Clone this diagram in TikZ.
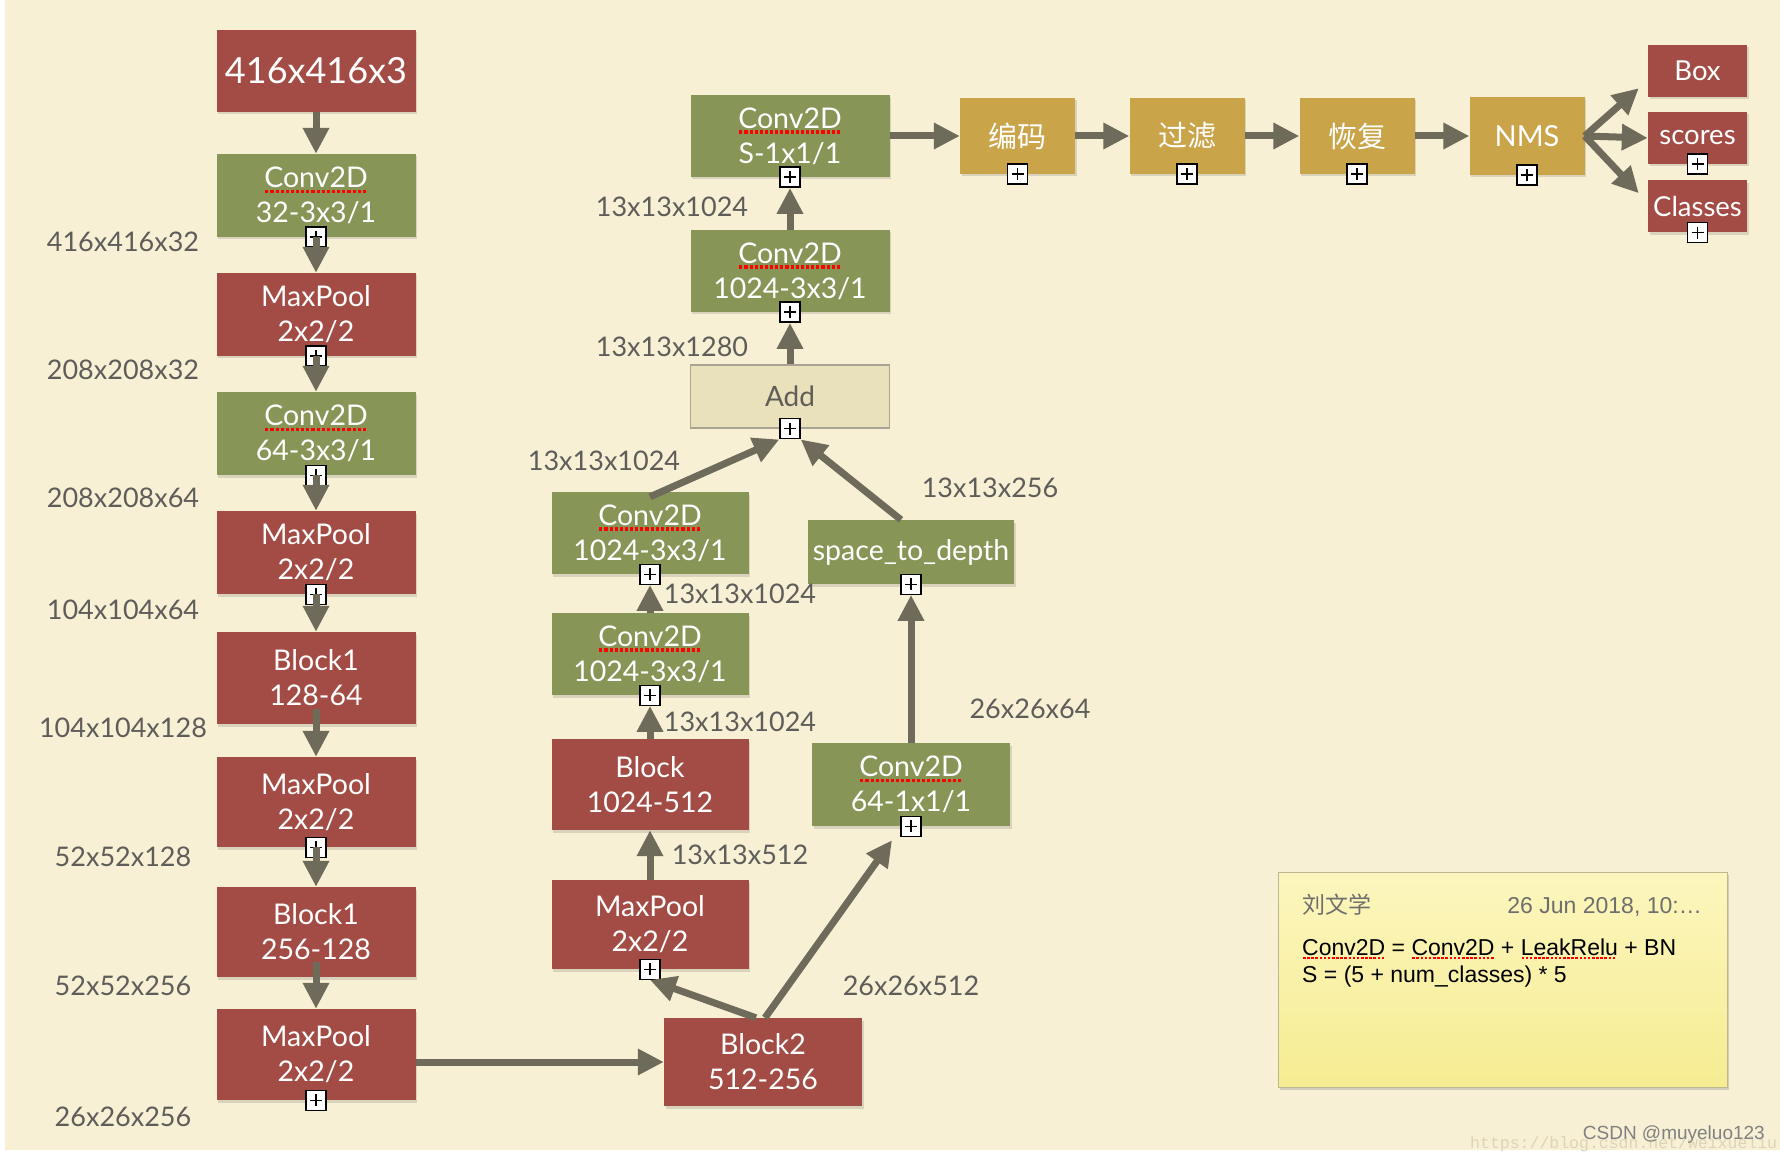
\documentclass[tikz,border=0pt]{standalone}
\usepackage{fontspec}
\setmainfont{Lato}
\newfontfamily\cjk{Noto Sans CJK SC}
\newfontfamily\notefont{Liberation Sans}
\newfontfamily\wmfont{Liberation Mono}
\usetikzlibrary{arrows.meta, shadows}

\definecolor{bgpaper}{HTML}{F8F0D4}
\definecolor{poolred}{HTML}{A34C46}
\definecolor{convgreen}{HTML}{879556}
\definecolor{postgold}{HTML}{C9A449}
\definecolor{addfill}{HTML}{E9E0BC}
\definecolor{addline}{HTML}{A9A392}
\definecolor{addtext}{HTML}{5F5D56}
\definecolor{flowgray}{HTML}{6F6B5B}
\definecolor{shapegray}{HTML}{5E5D59}
\definecolor{notetop}{HTML}{FCF6BE}
\definecolor{notebot}{HTML}{F6EC92}
\definecolor{noteline}{HTML}{BDB790}
\definecolor{notegray}{HTML}{6E6E6E}
\definecolor{wmurl}{HTML}{DDD4B6}

% red dotted spell-check underline
\newcommand{\redul}[1]{\setbox0\hbox{#1}\rlap{\lower0.19em\hbox to\wd0{\color{red}\leaders\hbox{\kern0.035em\rule{0.11em}{0.11em}\kern0.035em}\hfil}}\box0\relax}

\tikzstyle{layer}=[rectangle, inner sep=0pt, align=center, text=white, font=\fontsize{28.5}{35}\selectfont, drop shadow={shadow xshift=1.5pt, shadow yshift=-2.5pt, opacity=0.25}]
\tikzstyle{redbox}=[layer, fill=poolred, minimum width=199pt, minimum height=83pt]
\tikzstyle{greenbox}=[layer, fill=convgreen, minimum width=199pt, minimum height=83pt]
\tikzstyle{titlebox}=[redbox, minimum height=82pt, font=\fontsize{36}{40}\selectfont]
\tikzstyle{goldbox}=[layer, fill=postgold, minimum width=115pt, minimum height=76pt, font=\fontsize{29}{32}\selectfont]
\tikzstyle{outbox}=[layer, fill=poolred, minimum width=99pt, minimum height=52pt, font=\fontsize{27.5}{30}\selectfont]
\tikzstyle{addbox}=[rectangle, inner sep=0pt, fill=addfill, draw=addline, line width=1.5pt, text=addtext, minimum width=199pt, minimum height=63pt, font=\fontsize{28}{30}\selectfont]
\tikzstyle{dims}=[inner sep=0pt, text=shapegray, font=\fontsize{27}{30}\selectfont]
\tikzstyle{flow}=[draw=flowgray, line width=7pt, -{Triangle[length=26pt,width=25pt]}]
\tikzstyle{plusbox}=[draw=black, fill=white, line width=1.4pt, minimum size=20pt, inner sep=0pt, path picture={\draw[line width=1.4pt] ([yshift=-4pt]path picture bounding box.north) -- ([yshift=4pt]path picture bounding box.south) ([xshift=4pt]path picture bounding box.west) -- ([xshift=-4pt]path picture bounding box.east);}]
\tikzstyle{notebox}=[rectangle, inner sep=0pt, top color=notetop, bottom color=notebot, draw=noteline, line width=1pt, minimum width=449pt, minimum height=215pt, drop shadow={shadow xshift=2pt, shadow yshift=-3pt, opacity=0.3}]
\tikzstyle{notetext}=[inner sep=0pt, font=\notefont\fontsize{23}{27}\selectfont]

\begin{document}
\begin{tikzpicture}[x=1pt, y=-1pt]
\useasboundingbox (0,0) rectangle (1780,1155);
\fill[bgpaper] (5,0) rectangle (1780,1150);
% Backbone
    \node[titlebox] (inp) at (316,71) {416x416x3};
    \node[greenbox] (c1) at (316,195.5) {\redul{Conv2D}\\32-3x3/1};
    \node[redbox] (m1) at (316,314.5) {MaxPool\\2x2/2};
    \node[greenbox] (c2) at (316,433.5) {\redul{Conv2D}\\64-3x3/1};
    \node[redbox] (m2) at (316,552.5) {MaxPool\\2x2/2};
    \node[redbox, minimum height=92pt] (b1) at (316,678) {Block1\\128-64};
    \node[redbox, minimum height=90pt] (m3) at (316,802) {MaxPool\\2x2/2};
    \node[redbox, minimum height=90pt] (b2) at (316,932) {Block1\\256-128};
    \node[redbox, minimum height=91pt] (m4) at (316,1054.5) {MaxPool\\2x2/2};
% Shapes beside the backbone
    \node[dims] (l1) at (123,242) {416x416x32};
    \node[dims] (l2) at (123,370) {208x208x32};
    \node[dims] (l3) at (123,498) {208x208x64};
    \node[dims] (l4) at (123,610) {104x104x64};
    \node[dims] (l5) at (123,728) {104x104x128};
    \node[dims] (l6) at (123,857) {52x52x128};
    \node[dims] (l7) at (123,986) {52x52x256};
    \node[dims] (l8) at (123,1117) {26x26x256};
% Head
    \node[greenbox, minimum width=197pt, minimum height=82pt] (ca) at (650,533) {\redul{Conv2D}\\1024-3x3/1};
    \node[greenbox, minimum width=197pt, minimum height=82pt] (cb) at (650,654) {\redul{Conv2D}\\1024-3x3/1};
    \node[redbox, minimum width=197pt, minimum height=91pt] (bk) at (650,784.5) {Block\\1024-512};
    \node[redbox, minimum width=197pt, minimum height=89pt] (mp) at (650,924.5) {MaxPool\\2x2/2};
    \node[redbox, minimum width=198pt, minimum height=88pt] (blk2) at (763,1062) {Block2\\512-256};
    \node[greenbox, minimum width=206pt, minimum height=64pt] (s2d) at (911,552) {space\_to\_depth};
    \node[greenbox, minimum width=198pt] (c64) at (911,784.5) {\redul{Conv2D}\\64-1x1/1};
    \node[addbox] (add) at (790,396.5) {Add};
    \node[greenbox, minimum height=82pt] (ct) at (790,271) {\redul{Conv2D}\\1024-3x3/1};
    \node[greenbox, minimum height=82pt] (cs) at (790,136) {\redul{Conv2D}\\S-1x1/1};
% Shapes beside the head
    \node[dims] (h1) at (672,207) {13x13x1024};
    \node[dims] (h2) at (672,347) {13x13x1280};
    \node[dims] (h3) at (604,461) {13x13x1024};
    \node[dims] (h4) at (990,488) {13x13x256};
    \node[dims] (h5) at (740,594) {13x13x1024};
    \node[dims] (h6) at (740,722) {13x13x1024};
    \node[dims] (h7) at (740,855) {13x13x512};
    \node[dims] (h8) at (1030,709) {26x26x64};
    \node[dims] (h9) at (911,986) {26x26x512};
% Post-processing
    \node[goldbox] (enc) at (1017.5,136) {\cjk 编码};
    \node[goldbox] (flt) at (1187,136) {\cjk 过滤};
    \node[goldbox] (rec) at (1357,136) {\cjk 恢复};
    \node[goldbox, minimum height=78pt] (nms) at (1527,136) {NMS};
    \node[outbox] (box) at (1697.5,71) {Box};
    \node[outbox] (scr) at (1697.5,138) {scores};
    \node[outbox] (cls) at (1697.5,206.5) {Classes};
% Expand markers
    \node[plusbox] (pc1) at (c1.south) {};
    \node[plusbox] (pm1) at (m1.south) {};
    \node[plusbox] (pc2) at (c2.south) {};
    \node[plusbox] (pm2) at (m2.south) {};
    \node[plusbox] (pm3) at (m3.south) {};
    \node[plusbox] (pm4) at (m4.south) {};
    \node[plusbox] (pca) at (ca.south) {};
    \node[plusbox] (pcb) at (cb.south) {};
    \node[plusbox] (pmp) at (mp.south) {};
    \node[plusbox] (ps2d) at (s2d.south) {};
    \node[plusbox] (pc64) at (c64.south) {};
    \node[plusbox] (padd) at (add.south) {};
    \node[plusbox] (pct) at (ct.south) {};
    \node[plusbox] (pcs) at (cs.south) {};
    \node[plusbox] (penc) at (enc.south) {};
    \node[plusbox] (pflt) at (flt.south) {};
    \node[plusbox] (prec) at (rec.south) {};
    \node[plusbox] (pnms) at (nms.south) {};
    \node[plusbox] (pscr) at (scr.south) {};
    \node[plusbox] (pcls) at (cls.south) {};
% Data flow
    \draw[flow] (inp.south) -- (c1.north);
    \draw[flow] (c1.south) -- (m1.north);
    \draw[flow] (m1.south) -- (c2.north);
    \draw[flow] (c2.south) -- (m2.north);
    \draw[flow] (m2.south) -- (b1.north);
    \draw[flow] ([yshift=15pt]b1.south) -- (m3.north);
    \draw[flow] (m3.south) -- (b2.north);
    \draw[flow] ([yshift=15pt]b2.south) -- (m4.north);
    \draw[flow] (m4.east |- blk2.west) -- (blk2.west);
    \draw[flow] ([xshift=-7pt]blk2.north) -- (pmp.south);
    \draw[flow] ([xshift=2pt]blk2.north) -- ([xshift=-19pt,yshift=-14pt]c64.south);
    \draw[flow] (mp.north) -- (bk.south);
    \draw[flow] (bk.north) -- (pcb.south);
    \draw[flow] (cb.north) -- (pca.south);
    \draw[flow] ([yshift=-5pt]ca.north) -- (padd.south west);
    \draw[flow] ([xshift=-10pt]s2d.north) -- (padd.south east);
    \draw[flow] (c64.north) -- (ps2d.south);
    \draw[flow] (add.north) -- (pct.south);
    \draw[flow] (ct.north) -- (pcs.south);
    \draw[flow] (cs.east) -- (enc.west);
    \draw[flow] (enc.east) -- (flt.west);
    \draw[flow] (flt.east) -- (rec.west);
    \draw[flow] (rec.east) -- (nms.west);
    \draw[flow] (nms.east) -- ([xshift=-9pt,yshift=9pt]box.south west);
    \draw[flow] (nms.east) -- (scr.west);
    \draw[flow] (nms.east) -- ([xshift=-9pt,yshift=-13pt]cls.north west);
% Sticky note
    \node[notebox] (note) at (1502.5,979.5) {};
    \node[notetext, anchor=base west, text=notegray, font=\cjk\fontsize{23}{27}\selectfont] (nauth) at (1302,913) {刘文学};
    \node[notetext, anchor=base east, text=notegray, font=\notefont\fontsize{23}{27}\selectfont] (ndate) at (1702,913) {26 Jun 2018, 10:…};
    \node[notetext, anchor=base west] (nline1) at (1302,955) {\redul{Conv2D} = \redul{Conv2D} + \redul{LeakRelu} + BN};
    \node[notetext, anchor=base west] (nline2) at (1302,982) {S = (5 + num\_classes) * 5};
% Watermark
    \node[inner sep=0pt, anchor=base west, text=wmurl, font=\wmfont\fontsize{16.5}{18}\selectfont] (wurl) at (1470,1148) {https://blog.csdn.net/weixueliu};
    \node[inner sep=0pt, anchor=base east, text=gray, font=\notefont\fontsize{19}{22}\selectfont] (wname) at (1765,1139) {CSDN @muyeluo123};
\end{tikzpicture}
\end{document}
